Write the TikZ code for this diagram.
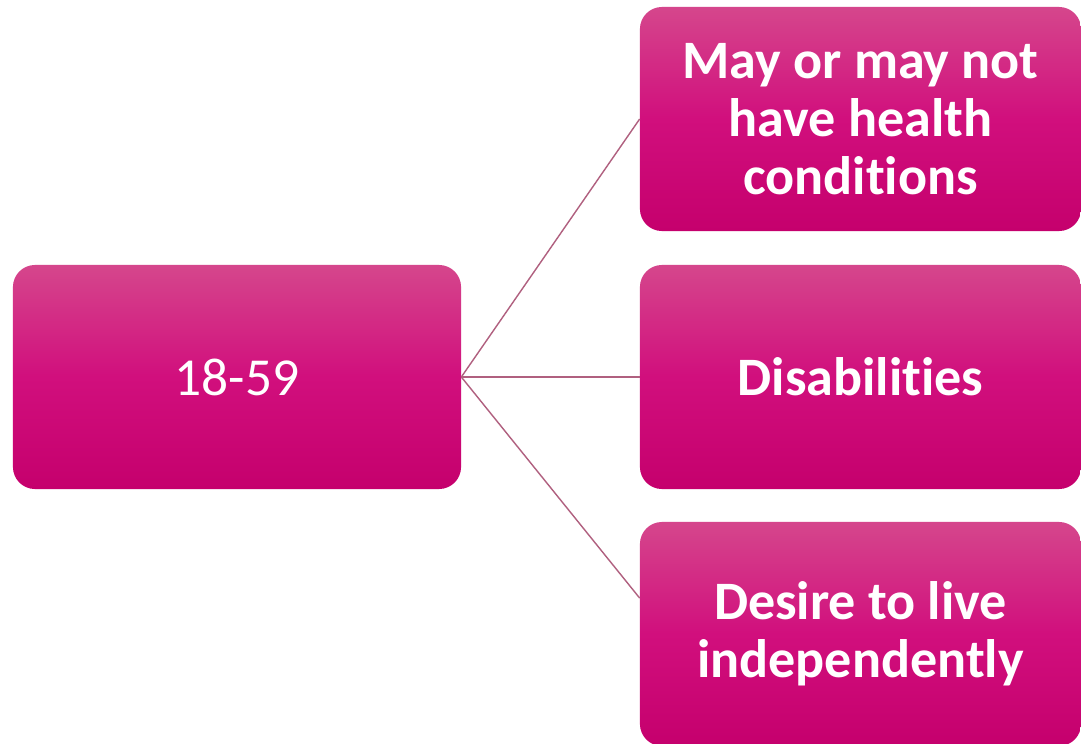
\documentclass[tikz,border=0pt]{standalone}
\usepackage{fontspec}
\setmainfont{Carlito}[Ligatures=NoCommon]
\usepackage{tikz}
\usetikzlibrary{calc}
\definecolor{agepink}{HTML}{D5468C}
\definecolor{agemid}{HTML}{D10F7D}
\definecolor{agemagenta}{HTML}{C5006D}
\definecolor{agelink}{HTML}{B0607F}

\begin{document}
\begin{tikzpicture}[x=0.025cm, y=-0.025cm,
  agebox/.style={rounded corners=5.5mm,top color=agepink,bottom color=agemagenta,middle color=agemid,
    text=white,align=center,minimum height=5.6cm,inner sep=0pt},
  reason/.style={agebox,minimum width=11.025cm,font=\bfseries\fontsize{38.5}{41}\selectfont},
  link/.style={draw=agelink,line width=1pt}]
\useasboundingbox[fill=white] (0,0) rectangle (1081,744);
\node[agebox,minimum width=11.2cm,font=\fontsize{38}{44}\selectfont] (age) at (237,377) {18-59};
\node[reason] (health) at (860.5,119) {May or may not\\have health\\conditions};
\node[reason] (dis) at (860.5,377) {Disabilities};
\node[reason] (desire) at (860.5,634) {Desire to live\\independently};
\coordinate (desirein) at ($(desire.north west)!0.34!(desire.south west)$);
\draw[link] (age.east) -- (health.west);
\draw[link] (age.east) -- (dis.west);
\draw[link] (age.east) -- (desirein);
\end{tikzpicture}
\end{document}
